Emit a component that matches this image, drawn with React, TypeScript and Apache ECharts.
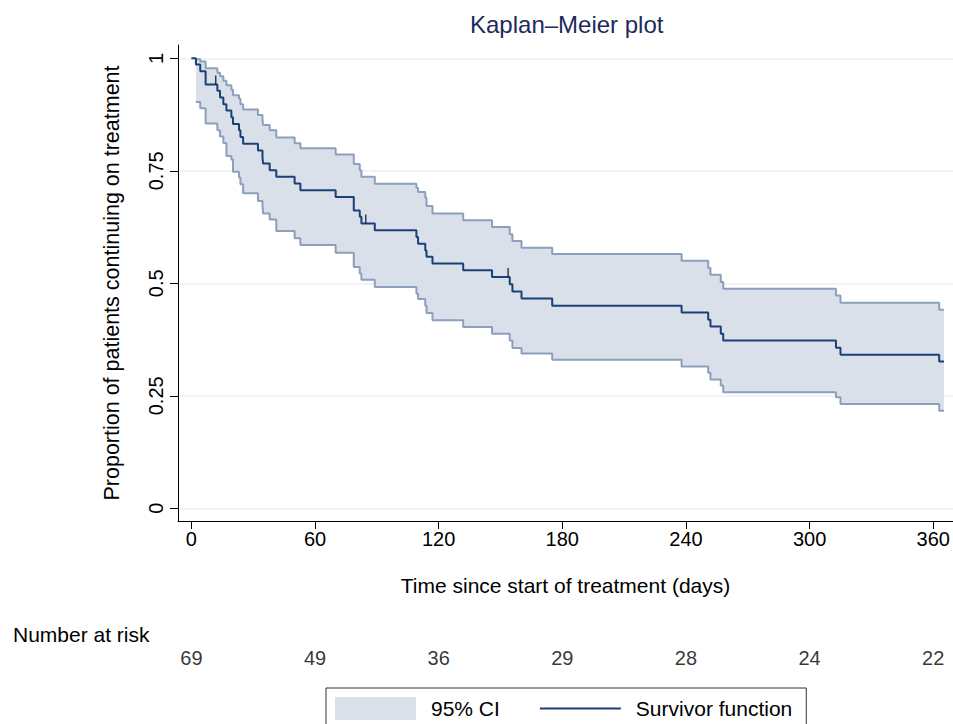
import React, { useEffect, useRef } from "react";
import * as echarts from "echarts";

// Kaplan–Meier survivor function (time in days, proportion)
const survTimes = [0, 2.2, 4.3, 6.9, 12.6, 13.9, 15.5, 17.0, 19.4, 20.2, 23.1, 23.8, 25.1, 32.3, 34.5, 34.8, 38.0, 41.2, 50.1, 52.9, 70.0, 78.8, 81.7, 82.5, 89.0, 109.2, 110.0, 113.5, 114.1, 117.0, 131.9, 145.9, 154.5, 155.8, 160.2, 175.1, 237.9, 250.8, 251.9, 256.9, 258.1, 312.8, 315.0, 362.9, 365.2];
const survValues = [1.0, 0.986, 0.971, 0.942, 0.928, 0.913, 0.898, 0.884, 0.869, 0.854, 0.840, 0.825, 0.810, 0.795, 0.780, 0.766, 0.751, 0.737, 0.722, 0.707, 0.692, 0.662, 0.648, 0.633, 0.618, 0.603, 0.588, 0.573, 0.559, 0.544, 0.529, 0.514, 0.498, 0.482, 0.466, 0.450, 0.435, 0.419, 0.404, 0.388, 0.373, 0.357, 0.341, 0.326, 0.326];

// 95% confidence band
const ciTimes = [2.2, 4.3, 6.9, 12.6, 13.9, 15.5, 17.0, 19.4, 20.2, 23.1, 23.8, 25.1, 32.3, 34.5, 34.8, 38.0, 41.2, 50.1, 52.9, 70.0, 78.8, 81.7, 82.5, 89.0, 109.2, 110.0, 113.5, 114.1, 117.0, 131.9, 145.9, 154.5, 155.8, 160.2, 175.1, 237.9, 250.8, 251.9, 256.9, 258.1, 312.8, 315.0, 362.9, 365.2];
const ciUpper = [0.998, 0.993, 0.978, 0.968, 0.960, 0.950, 0.940, 0.930, 0.918, 0.910, 0.898, 0.886, 0.874, 0.864, 0.852, 0.840, 0.824, 0.811, 0.800, 0.786, 0.765, 0.751, 0.737, 0.721, 0.712, 0.703, 0.690, 0.672, 0.655, 0.640, 0.625, 0.609, 0.594, 0.579, 0.565, 0.550, 0.534, 0.519, 0.503, 0.488, 0.473, 0.457, 0.441, 0.441];
const ciLower = [0.903, 0.889, 0.855, 0.840, 0.826, 0.812, 0.783, 0.775, 0.748, 0.735, 0.720, 0.700, 0.683, 0.672, 0.655, 0.642, 0.616, 0.600, 0.585, 0.568, 0.536, 0.522, 0.508, 0.492, 0.477, 0.465, 0.450, 0.434, 0.418, 0.403, 0.388, 0.373, 0.356, 0.344, 0.330, 0.315, 0.301, 0.286, 0.273, 0.258, 0.247, 0.232, 0.217, 0.217];

// Censored observations
const censorTimes = [11.8, 84.6, 153.7];
const censorValues = [0.942, 0.633, 0.514];

// Number at risk
const riskTimes = [0, 60, 120, 180, 240, 300, 360];
const riskCounts = [69, 49, 36, 29, 28, 24, 22];

const xTicks = [0, 60, 120, 180, 240, 300, 360];
const yTicks = [0, 0.25, 0.5, 0.75, 1];

const NAVY = "#1b3f77";
const CI_FILL = "#d9e0ea";
const CI_LINE = "#8c9fbd";
const FONT = "Liberation Sans";
const LINE_ICON = "path://M0,0h0.01v0.01h-0.01z M0,10.5h81v2h-81z M80.99,22.99h0.01v0.01h-0.01z";

export default function App() {
  const ref = useRef<HTMLDivElement>(null);
  useEffect(() => {
    if (!ref.current) return;
    const chart = echarts.init(ref.current, null, { renderer: "svg" });
    const xMin = -6.5;
    const xMax = 369.6;
    const n = ciTimes.length;
    chart.setOption({
      animation: false,
      backgroundColor: "#ffffff",
      textStyle: { fontFamily: FONT, color: "#000" },
      title: {
        text: "Kaplan–Meier plot",
        left: 470,
        top: 12,
        padding: 0,
        textStyle: { fontSize: 24, fontWeight: "normal", color: "#1c2b5c", fontFamily: FONT },
      },
      legend: {
        left: 326,
        top: 688,
        orient: "horizontal",
        padding: [9, 14, 9, 9],
        borderColor: "#333",
        borderWidth: 1,
        itemWidth: 81,
        itemHeight: 23,
        itemGap: 40,
        selectedMode: false,
        textStyle: { fontSize: 21, color: "#000", fontFamily: FONT, padding: [0, 0, 0, 10] },
        data: [
          { name: "95% CI", icon: "rect", itemStyle: { color: CI_FILL, borderWidth: 0 } },
          { name: "Survivor function", icon: LINE_ICON, itemStyle: { color: NAVY, borderWidth: 0 } },
        ],
      },
      grid: [
        { left: 178, right: 0, top: 45, bottom: 203, outerBoundsMode: "none", containLabel: false },
        { left: 178, right: 0, top: 648, height: 20, outerBoundsMode: "none", containLabel: false },
      ],
      xAxis: [
        {
          type: "value",
          gridIndex: 0,
          min: xMin,
          max: xMax,
          axisLine: { show: true, onZero: false, lineStyle: { color: "#000", width: 1 } },
          axisTick: { show: true, customValues: xTicks, length: 8, lineStyle: { color: "#000", width: 1 } },
          axisLabel: { show: true, customValues: xTicks, fontSize: 20, color: "#000", margin: 8, fontFamily: FONT },
          splitLine: { show: false },
          name: "Time since start of treatment (days)",
          nameLocation: "middle",
          nameGap: 54,
          nameTextStyle: { fontSize: 21, color: "#000", fontFamily: FONT },
        },
        { type: "value", gridIndex: 1, min: xMin, max: xMax, show: false },
      ],
      yAxis: [
        {
          type: "value",
          gridIndex: 0,
          min: -0.0282,
          max: 1.0296,
          axisLine: { show: true, onZero: false, lineStyle: { color: "#000", width: 1 } },
          axisTick: { show: true, customValues: yTicks, length: 8, lineStyle: { color: "#000", width: 1 } },
          axisLabel: { show: true, customValues: yTicks, rotate: 90, fontSize: 20, color: "#000", margin: 12, fontFamily: FONT },
          splitLine: { show: true, lineStyle: { color: "#eaf0f4", width: 1.5 } },
          name: "Proportion of patients continuing on treatment",
          nameLocation: "middle",
          nameGap: 55,
          nameTextStyle: { fontSize: 21.5, color: "#000", fontFamily: FONT },
        },
        { type: "value", gridIndex: 1, min: 0, max: 1, show: false },
      ],
      graphic: [
        {
          type: "text",
          left: 13,
          top: 624,
          style: { text: "Number at risk", font: `21px "${FONT}"`, fill: "#000" },
        },
      ],
      series: [
        {
          type: "custom",
          name: "95% CI",
          data: [[ciTimes[0], ciUpper[0]]],
          encode: { x: 0, y: 1 },
          silent: true,
          clip: true,
          itemStyle: { color: CI_FILL },
          z: 1,
          renderItem: (params: any, api: any) => {
            if (params.dataIndex !== 0) return null;
            const pts: number[][] = [];
            for (let i = 0; i < n; i++) {
              pts.push(api.coord([ciTimes[i], ciUpper[i]]));
              if (i < n - 1) pts.push(api.coord([ciTimes[i + 1], ciUpper[i]]));
            }
            for (let i = n - 1; i >= 0; i--) {
              if (i < n - 1) pts.push(api.coord([ciTimes[i + 1], ciLower[i]]));
              pts.push(api.coord([ciTimes[i], ciLower[i]]));
            }
            return { type: "polygon", shape: { points: pts }, style: { fill: CI_FILL, stroke: "none" } };
          },
        },
        {
          type: "line",
          name: "ciUpper",
          data: ciTimes.map((t, i) => [t, ciUpper[i]]),
          step: "end",
          symbol: "none",
          silent: true,
          lineStyle: { color: CI_LINE, width: 2 },
          z: 2,
        },
        {
          type: "line",
          name: "ciLower",
          data: ciTimes.map((t, i) => [t, ciLower[i]]),
          step: "end",
          symbol: "none",
          silent: true,
          lineStyle: { color: CI_LINE, width: 2 },
          z: 2,
        },
        {
          type: "line",
          name: "Survivor function",
          data: survTimes.map((t, i) => [t, survValues[i]]),
          step: "end",
          symbol: "none",
          silent: true,
          lineStyle: { color: NAVY, width: 2 },
          itemStyle: { color: NAVY },
          z: 3,
        },
        {
          type: "scatter",
          name: "censored",
          data: censorTimes.map((t, i) => [t, censorValues[i]]),
          symbol: "rect",
          symbolSize: [1.5, 9],
          symbolOffset: [0, -4.5],
          silent: true,
          itemStyle: { color: "#111" },
          z: 4,
        },
        {
          type: "scatter",
          name: "atRisk",
          xAxisIndex: 1,
          yAxisIndex: 1,
          data: riskTimes.map((t, i) => [t, 0.5, riskCounts[i]]),
          symbolSize: 1,
          silent: true,
          itemStyle: { color: "transparent" },
          label: {
            show: true,
            position: "inside",
            formatter: (p: any) => String(p.value[2]),
            fontSize: 20,
            color: "#000",
            fontFamily: FONT,
          },
        },
      ],
    });
    return () => chart.dispose();
  }, []);
  return (
    <div
      ref={ref}
      style={{ position: "absolute", left: 0, top: 0, width: 953, height: 724, background: "#fff" }}
    />
  );
}
